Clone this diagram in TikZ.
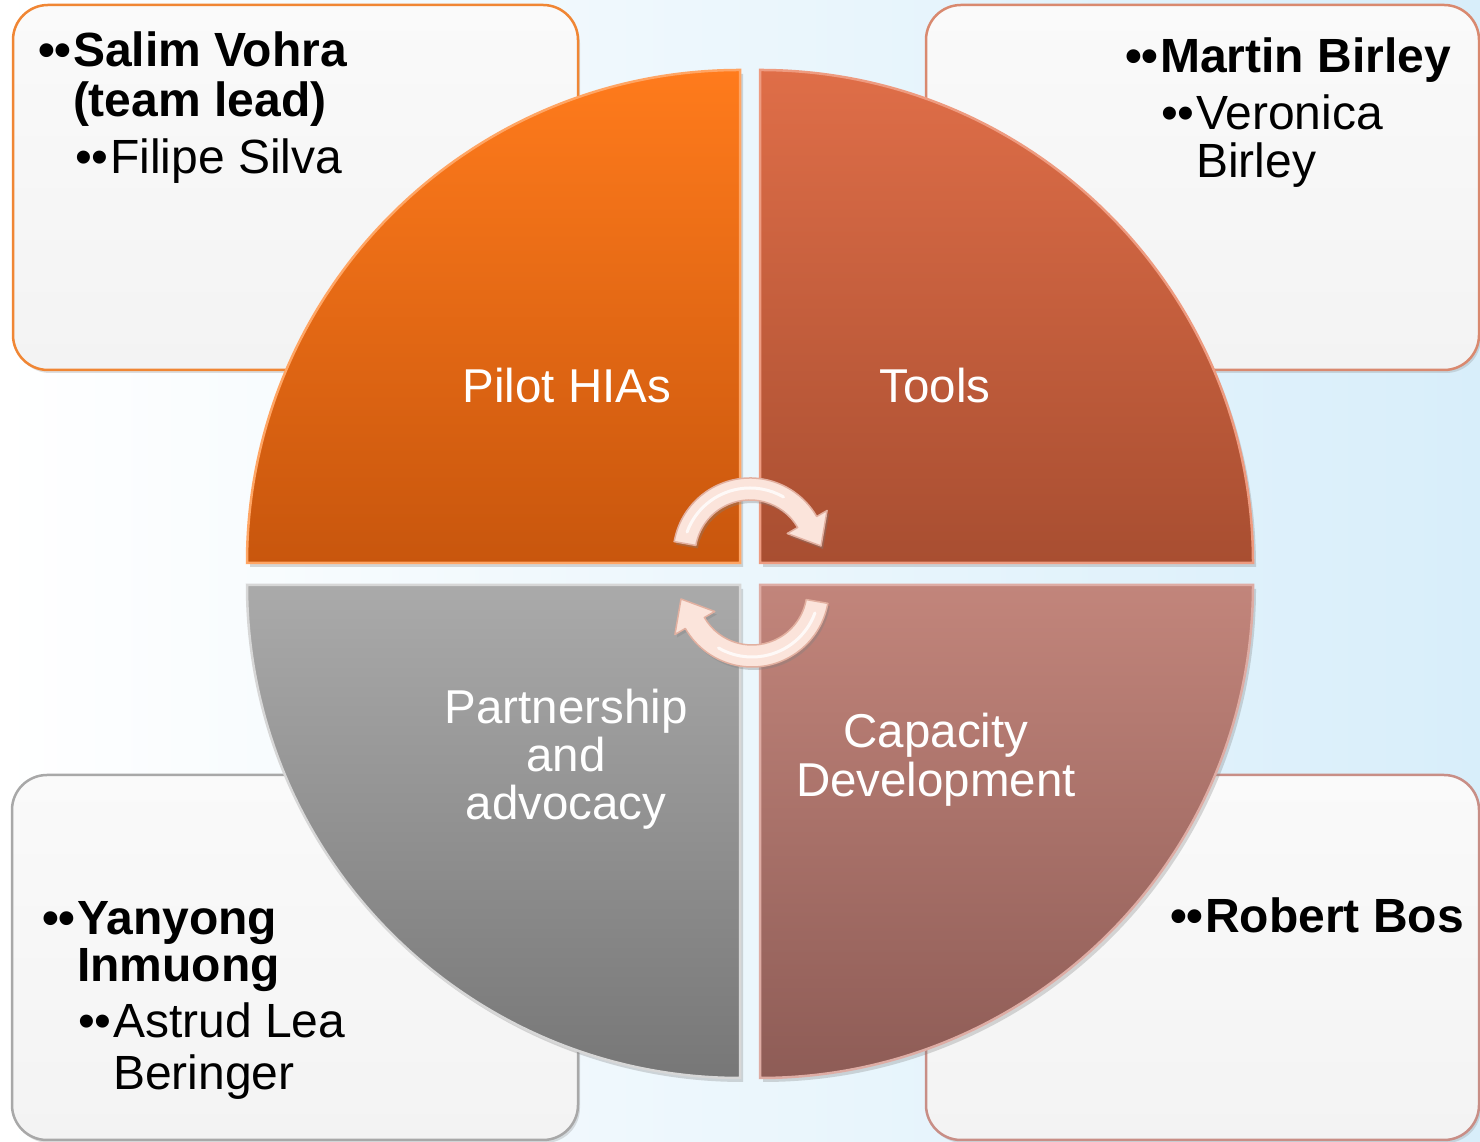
\documentclass[tikz,border=0pt]{standalone}
\usepackage{fontspec}
\setmainfont{Liberation Sans}
\usetikzlibrary{shadows}
\definecolor{bgblue}{RGB}{216,238,250}
\definecolor{boxtop}{RGB}{250,250,250}
\definecolor{boxbot}{RGB}{243,243,243}
\definecolor{tlline}{RGB}{240,134,52}
\definecolor{trline}{RGB}{217,137,111}
\definecolor{blline}{RGB}{168,168,168}
\definecolor{brline}{RGB}{200,142,134}
\definecolor{tltop}{RGB}{255,123,28}
\definecolor{tlbot}{RGB}{200,86,13}
\definecolor{tlrim}{RGB}{255,165,100}
\definecolor{trtop}{RGB}{223,110,72}
\definecolor{trbot}{RGB}{168,78,49}
\definecolor{trrim}{RGB}{238,155,128}
\definecolor{bltop}{RGB}{170,170,170}
\definecolor{blbot}{RGB}{119,119,119}
\definecolor{blrim}{RGB}{215,215,215}
\definecolor{brtop}{RGB}{194,133,123}
\definecolor{brbot}{RGB}{142,92,86}
\definecolor{brrim}{RGB}{222,172,164}
\definecolor{arrowfill}{RGB}{251,228,219}
\definecolor{arrowedge}{RGB}{226,176,160}
\begin{document}
\begin{tikzpicture}[x=1pt,y=1pt,
  every node/.style={inner sep=0pt, outer sep=0pt},
  boxtext/.style={anchor=base west, text=black, font=\fontsize{48pt}{48pt}\selectfont},
  boxbold/.style={anchor=base west, text=black, font=\fontsize{48pt}{48pt}\selectfont\bfseries},
  lbl/.style={anchor=base, text=white, font=\fontsize{47.5pt}{48pt}\selectfont},
  infobox/.style={rounded corners=35pt, line width=2.5pt, top color=boxtop, bottom color=boxbot,
    drop shadow={opacity=0.25, shadow xshift=2pt, shadow yshift=-3pt}},
  quad/.style={line width=2.5pt, drop shadow={opacity=0.3, shadow xshift=3pt, shadow yshift=-4pt}},
  cyc/.style={fill=arrowfill, draw=arrowedge, line width=1.5pt, line join=round,
    drop shadow={opacity=0.35, shadow xshift=2pt, shadow yshift=-3pt}},
  shine/.style={draw=white, line width=3pt, opacity=0.8, line cap=round}
]
\useasboundingbox (0,0) rectangle (1480,1142);
% background
\shade[left color=white, right color=bgblue] (0,0) rectangle (1480,1142);

% corner boxes
\path[infobox, draw=tlline] (13,772) rectangle (578,1137);
\path[infobox, draw=trline] (926,772) rectangle (1479,1137);
\path[infobox, draw=blline] (12,2) rectangle (578,367);
\path[infobox, draw=brline] (926,2) rectangle (1479,367);

% quadrants
\path[quad, draw=tlrim, top color=tltop, bottom color=tlbot]
  (740,579) -- ++(0,493) arc[start angle=90, end angle=180, radius=493] -- cycle;
\path[quad, draw=trrim, top color=trtop, bottom color=trbot]
  (760,579) -- ++(493,0) arc[start angle=0, end angle=90, radius=493] -- cycle;
\path[quad, draw=blrim, top color=bltop, bottom color=blbot]
  (740,557) -- ++(-493,0) arc[start angle=180, end angle=270, radius=493] -- cycle;
\path[quad, draw=brrim, top color=brtop, bottom color=brbot]
  (760,557) -- ++(0,-493) arc[start angle=270, end angle=360, radius=493] -- cycle;

% cycle arrows
\begin{scope}[shift={(750,587)}]
  \path[cyc] (170:77) arc[start angle=170, end angle=30, radius=77] -- (30:89)
    -- (71,9) -- (30:43) -- (30:55) arc[start angle=30, end angle=170, radius=55] -- cycle;
  \path[shine] (160:67) arc[start angle=160, end angle=60, radius=67];
\end{scope}
\begin{scope}[rotate around={180:(751,569.5)}, shift={(750,587)}]
  \path[cyc] (170:77) arc[start angle=170, end angle=30, radius=77] -- (30:89)
    -- (71,9) -- (30:43) -- (30:55) arc[start angle=30, end angle=170, radius=55] -- cycle;
  \path[shine] (160:67) arc[start angle=160, end angle=60, radius=67];
\end{scope}

% quadrant labels
\node[lbl] (pilot) at (567,739) {Pilot HIAs};
\node[lbl] (tools) at (935,739) {Tools};
\node[lbl] (part1) at (566,418) {Partnership};
\node[lbl] (part2) at (566,370) {and};
\node[lbl] (part3) at (566,322) {advocacy};
\node[lbl] (cap1) at (936,394) {Capacity};
\node[lbl] (cap2) at (936,345) {Development};

% box texts
\node[boxbold] (tla) at (38,1075) {••\hspace{1.5pt}Salim Vohra};
\node[boxbold] (tlb) at (73,1025) {(team lead)};
\node[boxtext] (tlc) at (75,968) {••\hspace{1.5pt}Filipe Silva};

\node[boxbold] (tra) at (1125,1069) {••\hspace{1.5pt}Martin Birley};
\node[boxtext] (trb) at (1161,1012) {••\hspace{1.5pt}Veronica};
\node[boxtext] (trc) at (1196,964) {Birley};

\node[boxbold] (bla) at (42,207) {••\hspace{1.5pt}Yanyong};
\node[boxbold] (blb) at (77,160) {Inmuong};
\node[boxtext] (blc) at (78,104) {••\hspace{1.5pt}Astrud Lea};
\node[boxtext] (bld) at (113,52) {Beringer};

\node[boxbold] (bra) at (1170,209) {••\hspace{1.5pt}Robert Bos};
\end{tikzpicture}
\end{document}
